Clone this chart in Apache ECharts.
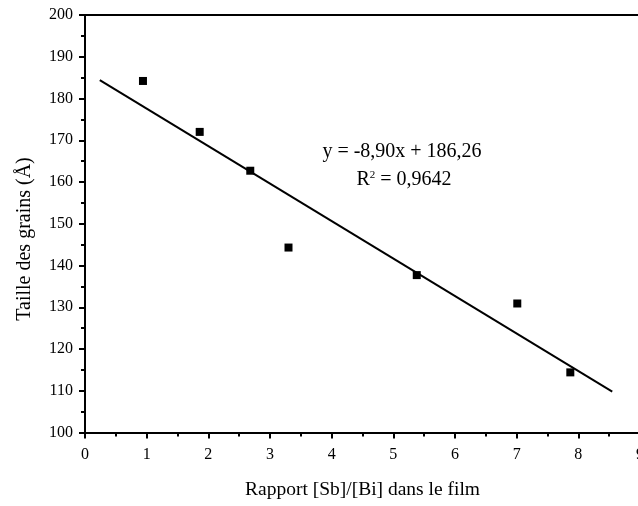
<!DOCTYPE html>
<html>
<head>
<meta charset="utf-8">
<script src="https://cdn.jsdelivr.net/npm/echarts@6/dist/echarts.min.js"></script>
<style>html,body{margin:0;padding:0;background:#fff}#c{width:638px;height:506px}</style>
</head>
<body>
<div id="c"></div>
<script>
const ratioSbBi = [0.94, 1.86, 2.68, 3.30, 5.38, 7.01, 7.87];
const grainSize = [184.2, 172.0, 162.7, 144.3, 137.7, 130.9, 114.4];
const fitX = [0.24, 8.55];
const fitY = [184.4, 109.8];
const eqLine1 = 'y = -8,90x + 186,26';
const eqLine2 = 'R{s|2} = 0,9642';
const xTitle = 'Rapport [Sb]/[Bi] dans le film';
const yTitle = 'Taille des grains (Å)';

const font = 'Liberation Serif';
const chart = echarts.init(document.getElementById('c'));
chart.setOption({
  animation: false,
  grid: {left: 85, width: 555, top: 15, height: 417.5, containLabel: false, outerBoundsMode: 'none'},
  xAxis: [{
    type: 'value', min: 0, max: 9, interval: 1,
    name: xTitle, nameLocation: 'middle', nameGap: 47,
    nameTextStyle: {fontFamily: font, fontSize: 19.5, color: '#000'},
    axisLine: {lineStyle: {color: '#000', width: 2}},
    axisTick: {inside: false, length: 6, lineStyle: {color: '#000', width: 2}},
    minorTick: {show: true, splitNumber: 2, length: 4, lineStyle: {color: '#000', width: 2}},
    axisLabel: {fontFamily: font, fontSize: 16, color: '#000', margin: 14},
    splitLine: {show: false}
  }, {
    type: 'value', min: 0, max: 9, position: 'top',
    axisLine: {show: true, lineStyle: {color: '#000', width: 2}},
    axisTick: {show: false}, axisLabel: {show: false}, splitLine: {show: false}
  }],
  yAxis: {
    type: 'value', min: 100, max: 200, interval: 10,
    axisLine: {show: true, lineStyle: {color: '#000', width: 2}},
    axisTick: {show: true, inside: false, length: 6, lineStyle: {color: '#000', width: 2}},
    minorTick: {show: true, splitNumber: 2, length: 4, lineStyle: {color: '#000', width: 2}},
    axisLabel: {fontFamily: font, fontSize: 16, color: '#000', margin: 12},
    splitLine: {show: false}
  },
  series: [{
    type: 'line',
    data: fitX.map((x, i) => [x, fitY[i]]),
    symbol: 'none',
    lineStyle: {color: '#000', width: 2},
    silent: true
  }, {
    type: 'scatter',
    data: ratioSbBi.map((x, i) => [x, grainSize[i]]),
    symbol: 'rect', symbolSize: 8,
    itemStyle: {color: '#000', opacity: 1}
  }],
  graphic: [{
    type: 'text', x: 25, y: 239, rotation: Math.PI / 2,
    style: {text: yTitle, font: '20px "Liberation Serif"', fill: '#000', align: 'center', verticalAlign: 'middle'}
  }, {
    type: 'text', x: 402, y: 152,
    style: {text: eqLine1, font: '20px "Liberation Serif"', fill: '#000', align: 'center', verticalAlign: 'middle'}
  }, {
    type: 'text', x: 404, y: 180,
    style: {
      text: eqLine2, font: '20px "Liberation Serif"', fill: '#000', align: 'center', verticalAlign: 'middle',
      rich: {s: {fontSize: 11, verticalAlign: 'top', padding: [0, 0, 10, 0], fontFamily: font}}
    }
  }]
});
</script>
</body>
</html>
